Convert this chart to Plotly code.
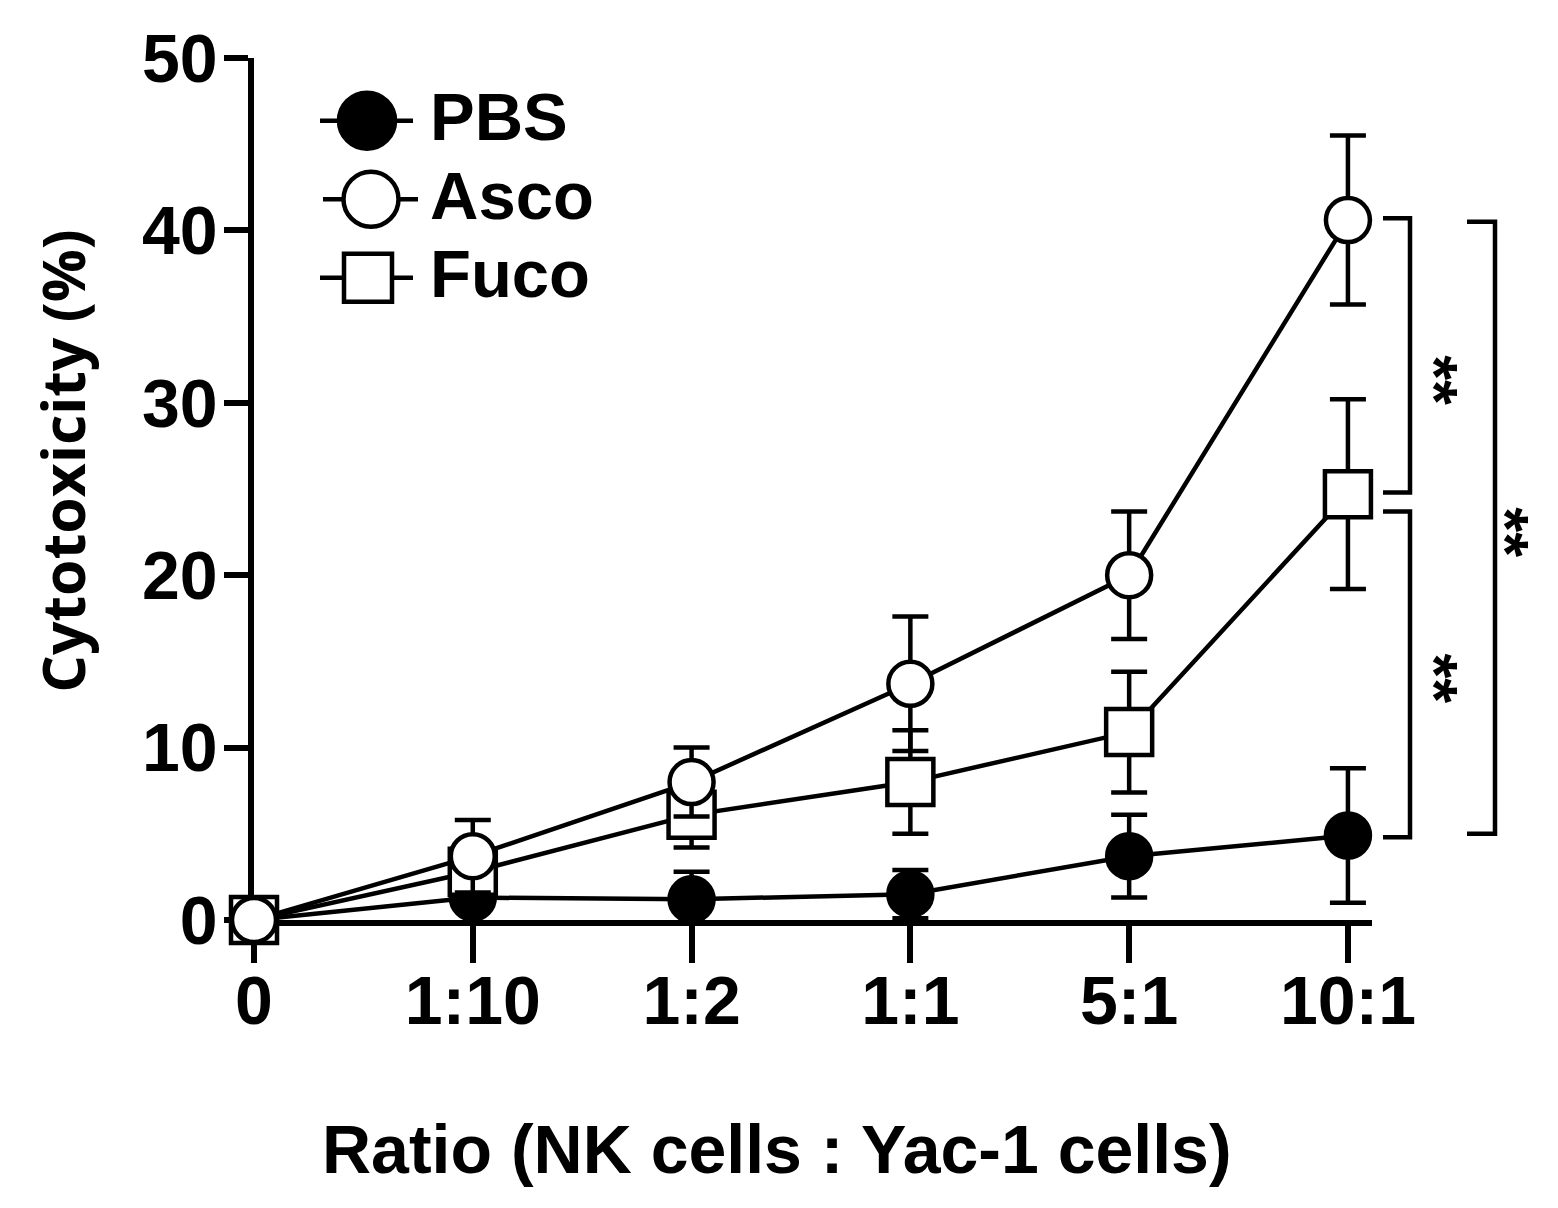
import plotly.graph_objects as go

# ---------------- data ----------------
categories = ["0", "1:10", "1:2", "1:1", "5:1", "10:1"]
pbs = [0, 1.3, 1.2, 1.5, 3.7, 4.9]
pbs_sd = [0, 2.0, 1.6, 1.4, 2.4, 3.9]
asco = [0, 3.7, 8.0, 13.7, 20.0, 40.6]
asco_sd = [0, 2.1, 2.0, 3.9, 3.7, 4.9]
fuco = [0, 2.8, 6.1, 8.0, 10.9, 24.7]
fuco_sd = [0, 1.4, 1.9, 3.0, 3.5, 5.5]
series_names = ["PBS", "Asco", "Fuco"]
y_ticks = [0, 10, 20, 30, 40, 50]
# significance brackets: (top value, bottom value, label)
brackets = [(40.7, 24.8, "**"), (23.7, 4.8, "**"), (40.5, 5.0, "**")]

# ---------------- layout geometry (page pixels) ----------------
OFF = 8                      # default body margin of the html page
PAGE_W, PAGE_H = 1558, 1208
W, H = PAGE_W - 2 * OFF, PAGE_H - 2 * OFF
L, R, T, B = 254, 1372, 53, 920   # plot area edges on the page
YMAX = 50
XMAX = 5.11
FONT = "Liberation Sans, Arial, sans-serif"
LW = 4.5

def pxx(p):
    return (p - L) / (R - L)

def pxy(p):
    return (B - p) / (B - T)

def vy(v):
    return v / YMAX

x_idx = list(range(len(categories)))

fig = go.Figure()

def add_series(y, sd, symbol, fill, size):
    fig.add_trace(go.Scatter(
        x=x_idx, y=y, mode="lines+markers",
        line=dict(color="black", width=LW),
        marker=dict(symbol=symbol, size=size, color=fill,
                    line=dict(color="black", width=LW)),
        error_y=dict(type="data", array=sd, visible=True, color="black",
                     thickness=LW, width=18),
        cliponaxis=False, showlegend=False, hoverinfo="skip"))

add_series(pbs, pbs_sd, "circle", "black", 44)
add_series(fuco, fuco_sd, "square", "white", 46)
add_series(asco, asco_sd, "circle", "white", 44)

# ---------------- custom legend on an overlay pixel axis ----------------
legend_items = [
    ("PBS", "circle", "black", 56, 116, (320, 413), 367),
    ("Asco", "circle", "white", 55, 195, (323, 418), 371),
    ("Fuco", "square", "white", 48, 274, (320, 413), 368),
]
for name, sym, fill, size, yy, (xa, xb), xm in legend_items:
    fig.add_trace(go.Scatter(x=[xa, xb], y=[yy, yy], mode="lines",
                             line=dict(color="black", width=LW),
                             xaxis="x2", yaxis="y2", showlegend=False,
                             hoverinfo="skip", cliponaxis=False))
    fig.add_trace(go.Scatter(x=[xm], y=[yy], mode="markers",
                             marker=dict(symbol=sym, size=size, color=fill,
                                         line=dict(color="black", width=LW)),
                             xaxis="x2", yaxis="y2", showlegend=False,
                             hoverinfo="skip", cliponaxis=False))
    fig.add_annotation(x=pxx(428), y=pxy(yy - 4), xref="paper", yref="paper",
                       text=name, showarrow=False, xanchor="left", yanchor="middle",
                       font=dict(family=FONT, size=67, color="black", weight="bold"))

# ---------------- significance brackets ----------------
bracket_x = [(1383, 1410, 1434), (1383, 1410, 1434), (1467, 1495, 1505)]
star_y_px = [377, 677, 530]
shapes = []
for (top, bot, lab), (x0, x1, xs), sy in zip(brackets, bracket_x, star_y_px):
    path = "M {a},{t} L {b},{t} L {b},{u} L {a},{u}".format(
        a=pxx(x0), b=pxx(x1), t=vy(top), u=vy(bot))
    shapes.append(dict(type="path", path=path, xref="paper", yref="paper",
                       line=dict(color="black", width=LW)))
    fig.add_annotation(x=pxx(xs), y=pxy(sy), xref="paper", yref="paper",
                       text=lab, showarrow=False, textangle=90,
                       xanchor="center", yanchor="middle", borderpad=0,
                       font=dict(family=FONT, size=64, color="black", weight="bold"))

# ---------------- axis titles ----------------
fig.add_annotation(x=pxx(777), y=pxy(1150), xref="paper", yref="paper",
                   text="Ratio (NK cells : Yac-1 cells)", showarrow=False,
                   xanchor="center", yanchor="middle",
                   font=dict(family=FONT, size=68, color="black", weight="bold"))
fig.add_annotation(x=pxx(62), y=pxy(458), xref="paper", yref="paper",
                   text="Cytotoxicity (%)", showarrow=False, textangle=-90,
                   xanchor="center", yanchor="middle",
                   font=dict(family="Open Sans, sans-serif",
                             size=59, color="black", weight="bold"))

fig.update_layout(
    width=W, height=H,
    margin=dict(l=L - OFF, r=W - (R - OFF), t=T - OFF, b=H - (B - OFF), pad=0),
    paper_bgcolor="white", plot_bgcolor="white",
    shapes=shapes,
    xaxis=dict(range=[0, XMAX], tickmode="array", tickvals=x_idx, ticktext=categories,
               showgrid=False, zeroline=False, showline=True, linecolor="black",
               linewidth=5.5, ticks="outside", ticklen=37, tickwidth=5.5, tickcolor="black",
               ticklabelstandoff=-20, layer="below traces",
               tickfont=dict(family=FONT, size=68, color="black", weight="bold")),
    yaxis=dict(range=[0, YMAX], tickmode="array", tickvals=y_ticks,
               showgrid=False, zeroline=False, showline=True, linecolor="black",
               linewidth=5.5, ticks="outside", ticklen=24, tickwidth=5.5, tickcolor="black",
               ticklabelstandoff=-7, layer="below traces",
               tickfont=dict(family=FONT, size=68, color="black", weight="bold")),
    xaxis2=dict(range=[L, R], overlaying="x", anchor="y2", visible=False,
                showgrid=False, zeroline=False),
    yaxis2=dict(range=[B, T], overlaying="y", anchor="x2", visible=False,
                showgrid=False, zeroline=False),
    showlegend=False,
)

fig.write_html("out.html")
